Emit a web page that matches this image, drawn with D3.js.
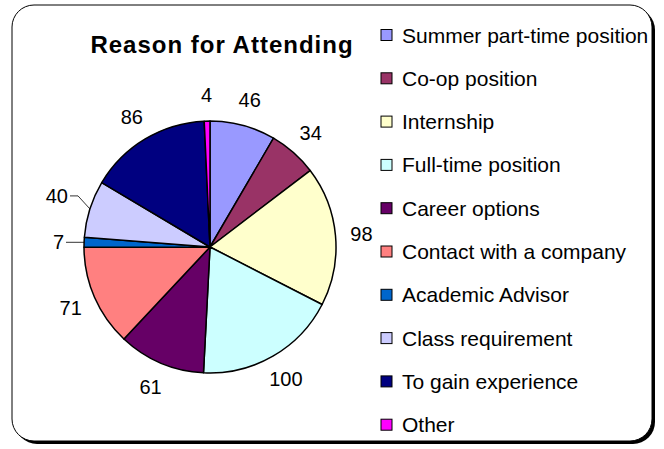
<!DOCTYPE html>
<html>
<head>
<meta charset="utf-8">
<script src="https://cdnjs.cloudflare.com/ajax/libs/d3/7.8.5/d3.min.js"></script>
<style>
body { margin:0; background:#fff; }
svg { display:block; font-family:"Liberation Sans", Arial, sans-serif; }
</style>
</head>
<body>
<svg width="664" height="449"></svg>
<script>
// categories and values
var reasons = ["Summer part-time position","Co-op position","Internship",
               "Full-time position","Career options","Contact with a company",
               "Academic Advisor","Class requirement","To gain experience","Other"];
var counts = [46,34,98,100,61,71,7,40,86,4];
var colors = ["#9999FF","#993366","#FFFFCC","#CCFFFF","#660066",
              "#FF8080","#0066CC","#CCCCFF","#000080","#FF00FF"];
var title = "Reason for Attending";

var svg = d3.select("svg");

// frame with drop shadow
var frame = {x:12,y:5,w:640,h:436,r:22};
svg.append("rect")
    .attr("x",frame.x+3).attr("y",frame.y+3)
    .attr("width",frame.w).attr("height",frame.h)
    .attr("rx",frame.r).attr("fill","#000");
svg.append("rect")
    .attr("x",frame.x).attr("y",frame.y)
    .attr("width",frame.w).attr("height",frame.h)
    .attr("rx",frame.r).attr("fill","#fff")
    .attr("stroke","#000").attr("stroke-width",1);

svg.append("text")
    .text(title)
    .attr("x",222).attr("y",53)
    .attr("text-anchor","middle")
    .attr("font-size",24).attr("font-weight","bold")
    .attr("letter-spacing",1);

// pie
var cx = 210, cy = 247, R = 126;
var pie = d3.pie().sort(null).value(function(d){return d;});
var arcs = pie(counts);
var arc = d3.arc().innerRadius(0).outerRadius(R);

var g = svg.append("g").attr("transform","translate("+cx+","+cy+")");
g.selectAll("path")
    .data(arcs)
    .enter()
    .append("path")
    .attr("d",arc)
    .attr("fill",function(d,i){return colors[i];})
    .attr("stroke","#000")
    .attr("stroke-width",1.5)
    .attr("stroke-linejoin","round");

// value labels
var mid = function(d){ return (d.startAngle+d.endAngle)/2; };
var labelR = 152;
var leader = {6:{dy:0}, 7:{dy:-13}};  // small slices pulled out to the left

arcs.forEach(function(d,i)
{
    var a = mid(d);
    if (leader[i])
    {
        var ex = R*Math.sin(a), ey = -R*Math.cos(a);
        var ty = ey + leader[i].dy;
        var tx = -R - 20 + (leader[i].dy == 0 ? 0 : 4);
        var pts = leader[i].dy == 0 ?
            [[ex,ey],[tx+2,ty]] :
            [[ex,ey],[tx+10,ty],[tx+2,ty]];
        g.append("path")
            .attr("d",d3.line()(pts))
            .attr("fill","none").attr("stroke","#000").attr("stroke-width",0.8);
        g.append("text")
            .text(counts[i])
            .attr("x",tx).attr("y",ty)
            .attr("text-anchor","end")
            .attr("dominant-baseline","central")
            .attr("font-size",20);
    }
    else
    {
        g.append("text")
            .text(counts[i])
            .attr("x",labelR*Math.sin(a))
            .attr("y",-labelR*Math.cos(a))
            .attr("text-anchor","middle")
            .attr("dominant-baseline","central")
            .attr("font-size",20);
    }
});

// legend
var legend = svg.append("g").attr("transform","translate(381,35)");
var rows = legend.selectAll("g")
    .data(reasons)
    .enter()
    .append("g")
    .attr("transform",function(d,i){return "translate(0,"+(i*43.3)+")";});
rows.append("rect")
    .attr("x",0).attr("y",-5.5)
    .attr("width",11).attr("height",11)
    .attr("fill",function(d,i){return colors[i];})
    .attr("stroke","#000").attr("stroke-width",1);
rows.append("text")
    .text(function(d){return d;})
    .attr("x",21).attr("y",0)
    .attr("dominant-baseline","central")
    .attr("font-size",21);
</script>
</body>
</html>
